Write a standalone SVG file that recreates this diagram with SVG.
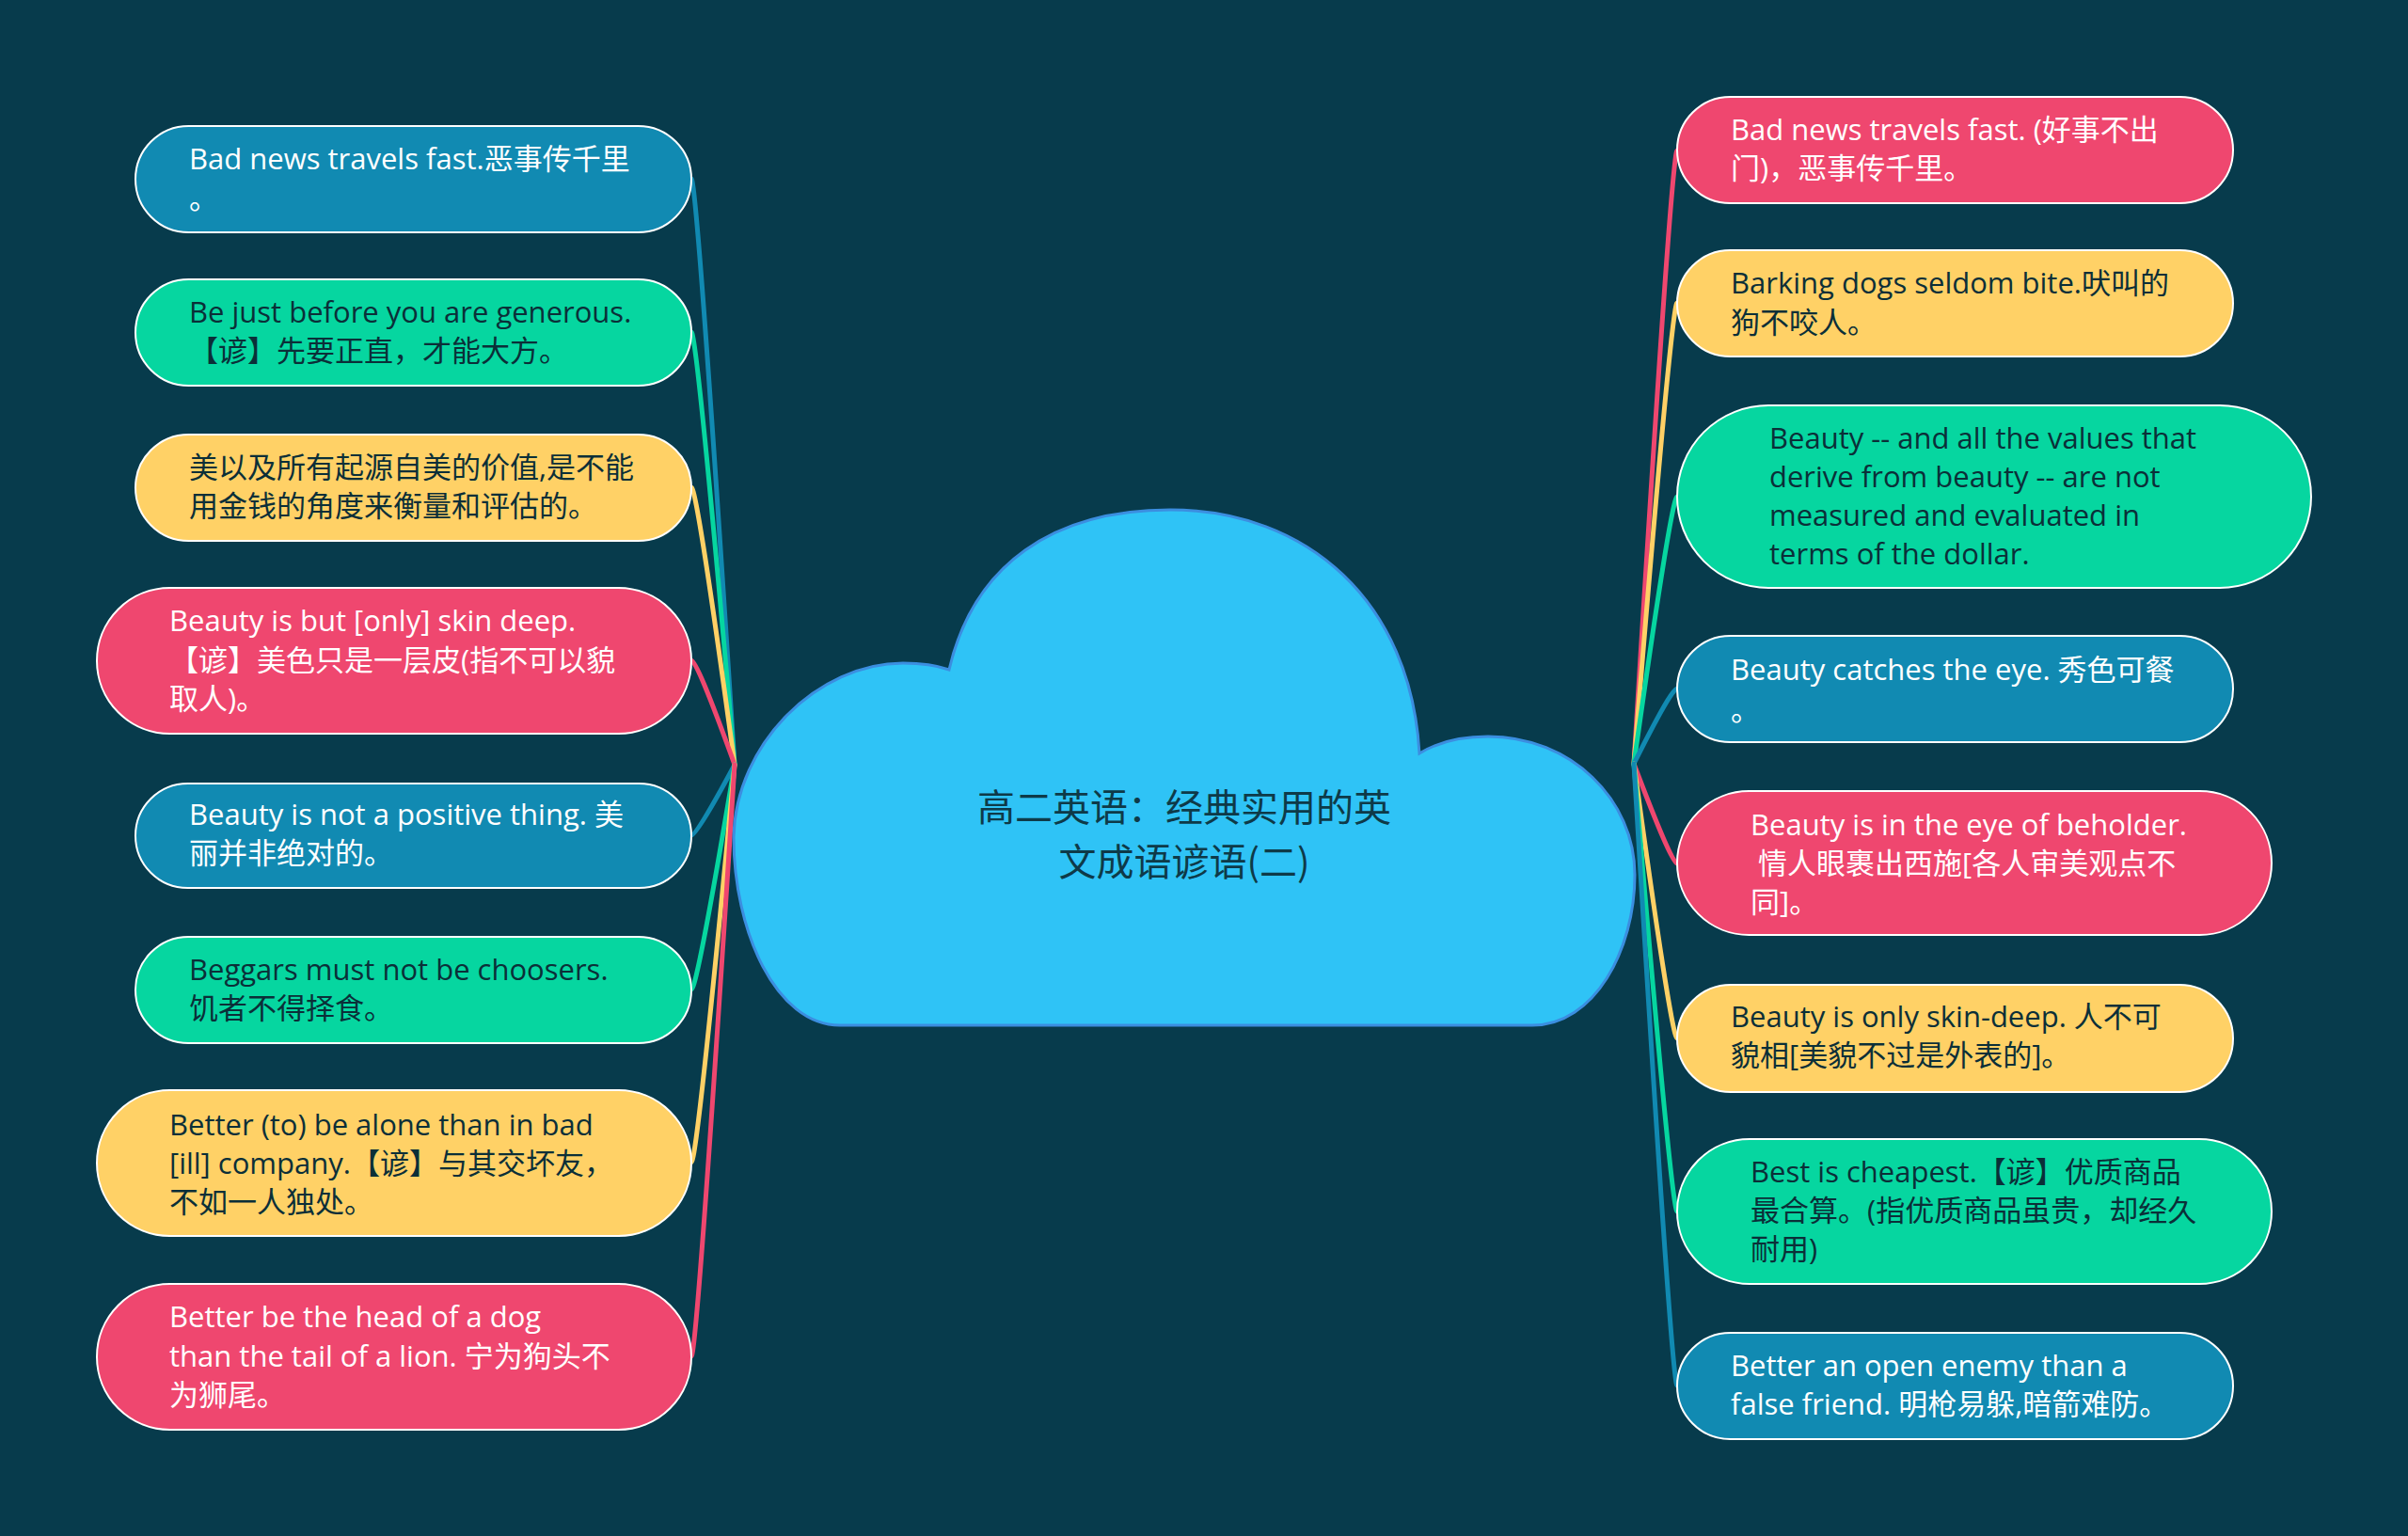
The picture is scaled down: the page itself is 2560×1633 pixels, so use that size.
<svg xmlns="http://www.w3.org/2000/svg" width="2560" height="1633" viewBox="0 0 2560 1633">
<style>
.bg{fill:#073b4c}
.n rect{stroke:#ffffff;stroke-width:2}
.blue rect{fill:#118ab2}
.green rect{fill:#06d6a0}
.yellow rect{fill:#ffd166}
.pink rect{fill:#ef476f}
.n text{font-family:"Open Sans","Noto Sans CJK SC",sans-serif;font-size:31px}
.blue text,.pink text{fill:#ffffff}
.green text,.yellow text{fill:#0b2f38}
.c path{fill:none;stroke-width:5;stroke-linecap:round}
.cb{stroke:#118ab2}.cg{stroke:#06d6a0}.cy{stroke:#ffd166}.cp{stroke:#ef476f}
.title{font-family:"Noto Sans CJK SC","Liberation Sans",sans-serif;font-size:40px;fill:#0e3a48;text-anchor:middle}
</style>
<rect class="bg" x="0" y="0" width="2560" height="1633"/>
<g id="connectors" class="c">
<path class="cb" d="M781 813 Q741 190 735 190"/>
<path class="cg" d="M781 813 Q741 353 735 353"/>
<path class="cy" d="M781 813 Q741 518 735 518"/>
<path class="cp" d="M781 813 Q741 702 735 702"/>
<path class="cb" d="M781 813 Q741 888 735 888"/>
<path class="cg" d="M781 813 Q741 1052 735 1052"/>
<path class="cy" d="M781 813 Q741 1236 735 1236"/>
<path class="cp" d="M781 813 Q741 1442 735 1442"/>
<path class="cp" d="M1737 812 Q1777 160 1783 160"/>
<path class="cy" d="M1737 812 Q1777 322 1783 322"/>
<path class="cg" d="M1737 812 Q1777 528 1783 528"/>
<path class="cb" d="M1737 812 Q1777 732 1783 732"/>
<path class="cp" d="M1737 812 Q1777 918 1783 918"/>
<path class="cy" d="M1737 812 Q1777 1104 1783 1104"/>
<path class="cg" d="M1737 812 Q1777 1288 1783 1288"/>
<path class="cb" d="M1737 812 Q1777 1473 1783 1473"/>
</g>
<g id="root">
<path d="M893 1090 C825 1090 780 990 780 890 C782 790 870 705 960 705 C980 705 995 707 1009 712 C1035 600 1120 542 1244 542 C1390 542 1500 640 1509 801 C1530 788 1555 783 1582 783 C1670 783 1738 850 1738 930 C1738 1010 1695 1090 1629 1090 Z" fill="#2fc3f6" stroke="#3b8ee0" stroke-width="3"/>
<text class="title"><tspan x="1259" y="873">高二英语：经典实用的英</tspan><tspan x="1259" y="931">文成语谚语(二)</tspan></text>
</g>
<g id="L1" class="n blue"><rect x="144" y="134" width="591" height="113" rx="56.5"/><text><tspan x="201" y="180">Bad news travels fast.恶事传千里</tspan><tspan x="201" y="222">。</tspan></text></g>
<g id="L2" class="n green"><rect x="144" y="297" width="591" height="113" rx="56.5"/><text><tspan x="201" y="343">Be just before you are generous.</tspan><tspan x="201" y="384">【谚】先要正直，才能大方。</tspan></text></g>
<g id="L3" class="n yellow"><rect x="144" y="462" width="591" height="113" rx="56.5"/><text><tspan x="201" y="508">美以及所有起源自美的价值,是不能</tspan><tspan x="201" y="549">用金钱的角度来衡量和评估的。</tspan></text></g>
<g id="L4" class="n pink"><rect x="103" y="625" width="632" height="155" rx="77.5"/><text><tspan x="180" y="671">Beauty is but [only] skin deep.</tspan><tspan x="180" y="713">【谚】美色只是一层皮(指不可以貌</tspan><tspan x="180" y="754">取人)。</tspan></text></g>
<g id="L5" class="n blue"><rect x="144" y="833" width="591" height="111" rx="55.5"/><text><tspan x="201" y="877">Beauty is not a positive thing. 美</tspan><tspan x="201" y="918">丽并非绝对的。</tspan></text></g>
<g id="L6" class="n green"><rect x="144" y="996" width="591" height="113" rx="56.5"/><text><tspan x="201" y="1042">Beggars must not be choosers.</tspan><tspan x="201" y="1083">饥者不得择食。</tspan></text></g>
<g id="L7" class="n yellow"><rect x="103" y="1159" width="632" height="155" rx="77.5"/><text><tspan x="180" y="1207">Better (to) be alone than in bad</tspan><tspan x="180" y="1248">[ill] company.【谚】与其交坏友，</tspan><tspan x="180" y="1289">不如一人独处。</tspan></text></g>
<g id="L8" class="n pink"><rect x="103" y="1365" width="632" height="155" rx="77.5"/><text><tspan x="180" y="1411">Better be the head of a dog</tspan><tspan x="180" y="1453">than the tail of a lion. 宁为狗头不</tspan><tspan x="180" y="1494">为狮尾。</tspan></text></g>
<g id="R1" class="n pink"><rect x="1783" y="103" width="591" height="113" rx="56.5"/><text><tspan x="1840" y="149">Bad news travels fast. (好事不出</tspan><tspan x="1840" y="190">门)，恶事传千里。</tspan></text></g>
<g id="R2" class="n yellow"><rect x="1783" y="266" width="591" height="113" rx="56.5"/><text><tspan x="1840" y="312">Barking dogs seldom bite.吠叫的</tspan><tspan x="1840" y="354">狗不咬人。</tspan></text></g>
<g id="R3" class="n green"><rect x="1783" y="431" width="674" height="194" rx="97"/><text><tspan x="1881" y="477">Beauty -- and all the values that</tspan><tspan x="1881" y="518">derive from beauty -- are not</tspan><tspan x="1881" y="559">measured and evaluated in</tspan><tspan x="1881" y="600">terms of the dollar.</tspan></text></g>
<g id="R4" class="n blue"><rect x="1783" y="676" width="591" height="113" rx="56.5"/><text><tspan x="1840" y="723">Beauty catches the eye. 秀色可餐</tspan><tspan x="1840" y="766">。</tspan></text></g>
<g id="R5" class="n pink"><rect x="1783" y="841" width="632" height="153" rx="76.5"/><text><tspan x="1861" y="888">Beauty is in the eye of beholder.</tspan><tspan x="1869" y="929">情人眼裹出西施[各人审美观点不</tspan><tspan x="1861" y="970">同]。</tspan></text></g>
<g id="R6" class="n yellow"><rect x="1783" y="1047" width="591" height="114" rx="57"/><text><tspan x="1840" y="1092">Beauty is only skin-deep. 人不可</tspan><tspan x="1840" y="1133">貌相[美貌不过是外表的]。</tspan></text></g>
<g id="R7" class="n green"><rect x="1783" y="1211" width="632" height="154" rx="77"/><text><tspan x="1861" y="1257">Best is cheapest.【谚】优质商品</tspan><tspan x="1861" y="1298">最合算。(指优质商品虽贵，却经久</tspan><tspan x="1861" y="1339">耐用)</tspan></text></g>
<g id="R8" class="n blue"><rect x="1783" y="1417" width="591" height="113" rx="56.5"/><text><tspan x="1840" y="1463">Better an open enemy than a</tspan><tspan x="1840" y="1504">false friend. 明枪易躲,暗箭难防。</tspan></text></g>
</svg>
